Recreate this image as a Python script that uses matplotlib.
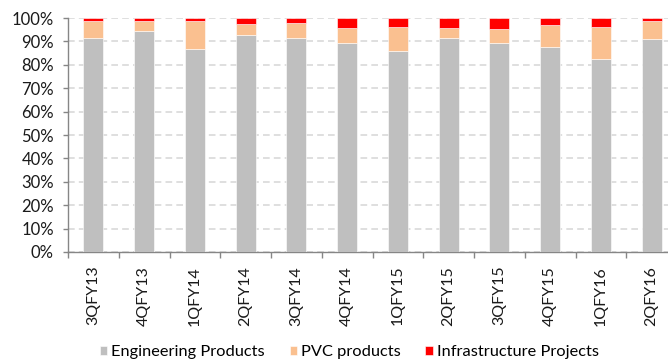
import numpy as np
import matplotlib
matplotlib.use('Agg')
import matplotlib.pyplot as plt
from matplotlib.ticker import FixedLocator, PercentFormatter

quarters = ['3QFY13', '4QFY13', '1QFY14', '2QFY14', '3QFY14', '4QFY14',
            '1QFY15', '2QFY15', '3QFY15', '4QFY15', '1QFY16', '2QFY16']

# revenue mix, % of total
engineering = [91.6, 94.6, 86.6, 92.9, 91.6, 89.5, 86.0, 91.6, 89.5, 87.7, 82.3, 91.1]
pvc = [7.0, 4.0, 12.0, 4.5, 6.4, 6.2, 10.3, 4.1, 5.7, 9.2, 14.0, 7.5]
infra = [1.4, 1.4, 1.4, 2.6, 2.0, 4.3, 3.7, 4.3, 4.8, 3.1, 3.7, 1.4]

series_names = ['Engineering Products', 'PVC products', 'Infrastructure Projects']
colors = ['#bfbfbf', '#fac090', '#ff0000']

plt.rcParams['font.family'] = ['Lato', 'DejaVu Sans']

fig = plt.figure(figsize=(6.68, 3.62), dpi=100)
ax = fig.add_axes([0.1018, 0.304, 0.9117, 0.646])

x = np.arange(len(quarters))
bottom = np.zeros(len(quarters))
for name, vals, col in zip(series_names, [engineering, pvc, infra], colors):
    vals = np.array(vals)
    ax.bar(x, vals, 0.39, bottom=bottom, color=col, label=name,
           edgecolor='white', linewidth=0.4, zorder=3)
    bottom += vals

ax.set_xlim(-0.5, len(quarters) - 0.5)
ax.set_ylim(0, 100)
ax.set_yticks(np.arange(0, 101, 10))
ax.yaxis.set_major_formatter(PercentFormatter(decimals=0))
ax.grid(axis='y', color='#d9d9d9', linestyle=(0, (4, 2.5)), linewidth=1.2, zorder=0)

ax.set_xticks(x)
ax.set_xticklabels(quarters, rotation=90, fontsize=11.5, color='#1a1a1a')
ax.xaxis.set_minor_locator(FixedLocator(np.arange(-0.5, len(quarters), 1)))
ax.tick_params(axis='x', which='major', length=0, pad=10)
ax.tick_params(axis='x', which='minor', length=4, color='#868686', width=1)
ax.tick_params(axis='y', length=3.6, color='#868686', width=1, pad=6.5,
               labelsize=12, labelcolor='#1a1a1a')

for side in ['top', 'right']:
    ax.spines[side].set_visible(False)
for side in ['left', 'bottom']:
    ax.spines[side].set_color('#868686')
    ax.spines[side].set_linewidth(1)

fig.legend(loc='center', bbox_to_anchor=(0.523, 0.027), ncol=3, frameon=False,
           fontsize=11.8, handlelength=0.44, handleheight=0.44, handletextpad=0.25,
           columnspacing=1.5)

fig.savefig('out.png', dpi=100)
plt.close(fig)
